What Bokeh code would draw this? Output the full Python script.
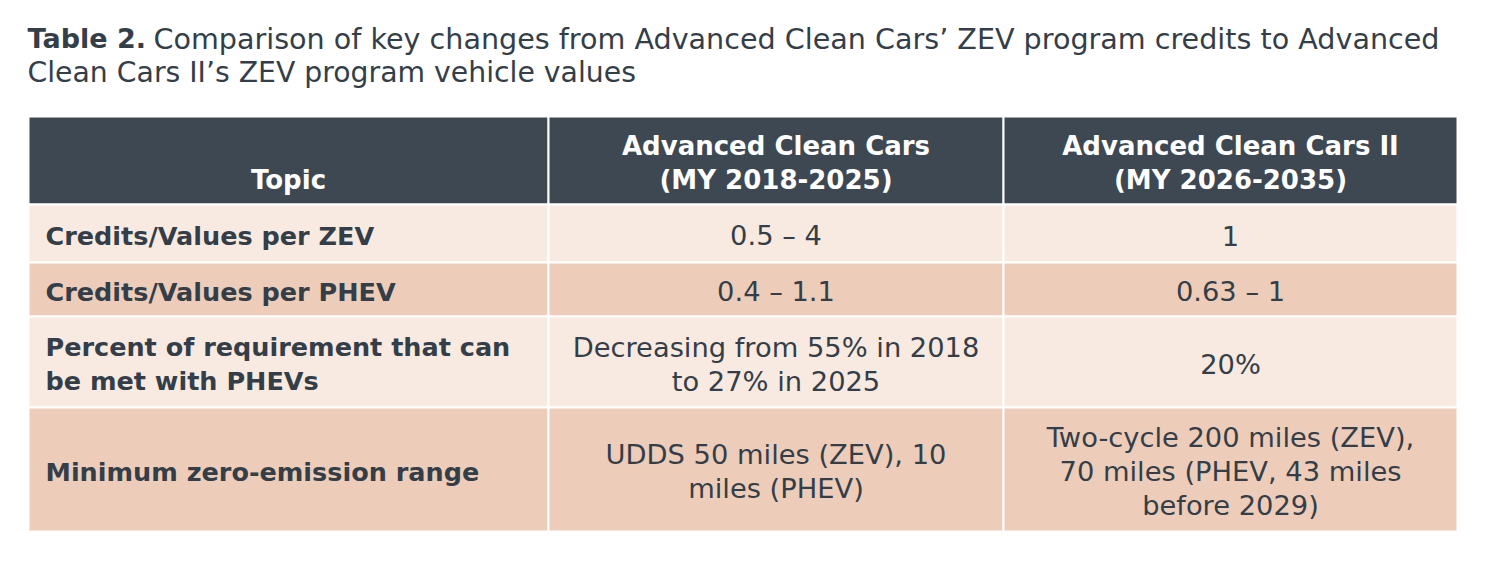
from bokeh.plotting import figure
from bokeh.models import Range1d
from bokeh.core.properties import value
from bokeh.embed import file_html
from bokeh.resources import INLINE

# ---- table content ----
title_bold = "Table 2."
title_rest = "Comparison of key changes from Advanced Clean Cars’ ZEV program credits to Advanced"
title_line2 = "Clean Cars II’s ZEV program vehicle values"

headers = ["Topic", "Advanced Clean Cars\n(MY 2018-2025)", "Advanced Clean Cars II\n(MY 2026-2035)"]
topics = ["Credits/Values per ZEV", "Credits/Values per PHEV",
          "Percent of requirement that can\nbe met with PHEVs", "Minimum zero-emission range"]
acc1 = ["0.5 – 4", "0.4 – 1.1", "Decreasing from 55% in 2018\nto 27% in 2025",
        "UDDS 50 miles (ZEV), 10\nmiles (PHEV)"]
acc2 = ["1", "0.63 – 1", "20%",
        "Two-cycle 200 miles (ZEV),\n70 miles (PHEV, 43 miles\nbefore 2029)"]

# ---- layout / style ----
FONT = "DejaVu Sans"
FS_TITLE = "28.6px"
FS_TITLE2 = "28.3px"
FS_TITLE_B = "27px"
FS_HEAD = "26px"
FS_TOPIC = "25.5px"
FS_BODY = "27.3px"
TXT = "#343e48"
HEAD_BG = "#3e4852"
ROW_BG = ["#f9eae1", "#edcdb9", "#f9eae1", "#edcdb9"]
col_edges = [28, 548, 1003, 1457]
row_edges = [116, 204, 262, 316, 407, 531]
LH = 34

p = figure(width=1484, height=556, output_backend="svg", toolbar_location=None,
           x_range=Range1d(0, 1484), y_range=Range1d(556, 0),
           min_border=0, background_fill_color="white", border_fill_color="white")
p.axis.visible = False
p.grid.visible = False
p.outline_line_color = None

# title
p.text(x=[27], y=[38], text=[title_bold], text_font=value(FONT), text_font_style="bold",
       text_font_size=FS_TITLE_B, text_color=TXT, text_baseline="middle", text_align="left")
p.text(x=[153], y=[38], text=[title_rest], text_font=value(FONT),
       text_font_size=FS_TITLE, text_color=TXT, text_baseline="middle", text_align="left")
p.text(x=[27], y=[72], text=[title_line2], text_font=value(FONT),
       text_font_size=FS_TITLE2, text_color=TXT, text_baseline="middle", text_align="left")

# cells
L, R, T, B, C = [], [], [], [], []
for ri in range(len(row_edges) - 1):
    for ci in range(len(col_edges) - 1):
        L.append(col_edges[ci]); R.append(col_edges[ci + 1])
        T.append(row_edges[ri]); B.append(row_edges[ri + 1])
        C.append(HEAD_BG if ri == 0 else ROW_BG[ri - 1])
p.quad(left=L, right=R, top=T, bottom=B, fill_color=C, line_color="white", line_width=2)

def put_lines(xs, ys, ts, x, lines_y, lines):
    for yy, t in zip(lines_y, lines):
        xs.append(x); ys.append(yy); ts.append(t)

# header text (bottom aligned)
hx, hy, ht = [], [], []
for ci, h in enumerate(headers):
    lines = h.split("\n")
    cx = (col_edges[ci] + col_edges[ci + 1]) / 2
    last = row_edges[1] - 25
    ly = [last - LH * (len(lines) - 1 - k) for k in range(len(lines))]
    put_lines(hx, hy, ht, cx, ly, lines)
p.text(x=hx, y=hy, text=ht, text_font=value(FONT), text_font_style="bold", text_font_size=FS_HEAD,
       text_color="white", text_align="center", text_baseline="middle")

# body text
tx, ty, tt = [], [], []
bx, by, bt = [], [], []
for ri in range(len(topics)):
    mid = (row_edges[ri + 1] + row_edges[ri + 2]) / 2 + 2
    for ci, col in enumerate([topics, acc1, acc2]):
        lines = col[ri].split("\n")
        n = len(lines)
        ly = [mid + LH * (k - (n - 1) / 2) for k in range(n)]
        if ci == 0:
            put_lines(tx, ty, tt, col_edges[0] + 17, ly, lines)
        else:
            cx = (col_edges[ci] + col_edges[ci + 1]) / 2
            put_lines(bx, by, bt, cx, ly, lines)
p.text(x=tx, y=ty, text=tt, text_font=value(FONT), text_font_style="bold", text_font_size=FS_TOPIC,
       text_color=TXT, text_align="left", text_baseline="middle")
p.text(x=bx, y=by, text=bt, text_font=value(FONT), text_font_size=FS_BODY,
       text_color=TXT, text_align="center", text_baseline="middle")

open("out.html", "w").write(file_html(p, INLINE))
